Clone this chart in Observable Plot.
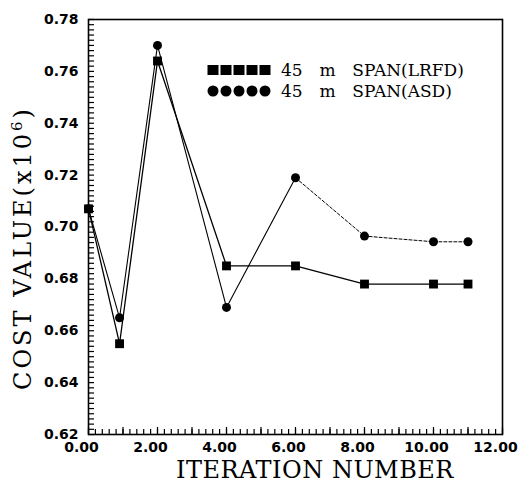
<!DOCTYPE html>
<html>
<head>
<meta charset="utf-8">
<script src="https://cdn.jsdelivr.net/npm/d3@7"></script>
<script src="https://cdn.jsdelivr.net/npm/@observablehq/plot@0.6"></script>
<style>
  html, body { margin: 0; padding: 0; background: #fff; }
  #wrap { position: relative; width: 527px; height: 483px; }
  .ttl { position: absolute; font-family: "DejaVu Serif", serif; color: #000; white-space: pre; line-height: 1; }
  .leg { position: absolute; font-family: "DejaVu Serif", serif; font-size: 17px; color: #000; white-space: pre; display: flex; align-items: center; line-height: 1; }
</style>
</head>
<body>
<div id="wrap"></div>
<script>
// Data
const iterations = [0, 0.9, 2, 4, 6, 8, 10, 11];
const lrfd = [0.707, 0.655, 0.764, 0.685, 0.685, 0.678, 0.678, 0.678];
const asd  = [0.707, 0.665, 0.770, 0.669, 0.719, 0.6965, 0.6943, 0.6943];
const xTicks = [0, 2, 4, 6, 8, 10, 12];
const yTicks = [0.62, 0.64, 0.66, 0.68, 0.70, 0.72, 0.74, 0.76, 0.78];
const seriesNames = ["45  m  SPAN(LRFD)", "45  m  SPAN(ASD)"];
const xTitle = "ITERATION NUMBER";
const yTitle = "COST VALUE(x10";

const lrfdData = iterations.map((x, i) => ({x, y: lrfd[i]}));
const asdData = iterations.map((x, i) => ({x, y: asd[i]}));
const yMinor = d3.range(0, 81).map(i => 0.62 + i * 0.002);
const xMinor = d3.range(0, 61).map(i => i * 0.2);
const xMid = d3.range(0, 13);

const W = 527, H = 483, ML = 88, MR = 25, MT = 19, MB = 49;
const innerW = W - ML - MR, innerH = H - MT - MB;

const chart = Plot.plot({
  width: W,
  height: H,
  marginLeft: ML,
  marginRight: MR,
  marginTop: MT,
  marginBottom: MB,
  x: {domain: [0, 12]},
  y: {domain: [0.62, 0.78]},
  style: {background: "#fff"},
  marks: [
    Plot.tickY(yMinor, {y: d => d, stroke: "#000", strokeWidth: 1.2, insetRight: innerW - 6}),
    Plot.tickX(xMinor, {x: d => d, stroke: "#000", strokeWidth: 1.2, insetTop: innerH - 5}),
    Plot.tickX(xMid, {x: d => d, stroke: "#000", strokeWidth: 1.2, insetTop: innerH - 7}),
    Plot.axisY({ticks: yTicks, tickSize: 0, tickPadding: 10, tickFormat: d3.format(".2f"), label: null,
      fontSize: 14, fontWeight: "bold", fontFamily: "DejaVu Sans, sans-serif"}),
    Plot.axisX({ticks: xTicks, tickSize: 0, tickPadding: 8, dx: -7, tickFormat: d3.format(".2f"), label: null,
      fontSize: 14, fontWeight: "bold", fontFamily: "DejaVu Sans, sans-serif"}),
    Plot.frame({stroke: "#000", strokeWidth: 1.6}),
    Plot.line(lrfdData, {x: "x", y: "y", stroke: "#000", strokeWidth: 1.3}),
    Plot.line(asdData.filter(d => d.x <= 6), {x: "x", y: "y", stroke: "#000", strokeWidth: 1.1}),
    Plot.line(asdData.filter(d => d.x >= 6), {x: "x", y: "y", stroke: "#000", strokeWidth: 1, strokeDasharray: "3,2"}),
    Plot.dot(lrfdData, {x: "x", y: "y", symbol: "square", r: 5, fill: "#000", stroke: "none"}),
    Plot.dot(asdData, {x: "x", y: "y", symbol: "circle", r: 4.5, fill: "#000", stroke: "none"})
  ]
});

const wrap = document.getElementById("wrap");
wrap.appendChild(chart);
chart.style.position = "absolute";
chart.style.left = "0";
chart.style.top = "0";

// Legend
function legendRow(centerY, symbol, label) {
  const row = document.createElement("div");
  row.className = "leg";
  row.style.left = "207px";
  row.style.top = (centerY - 10) + "px";
  row.style.height = "20px";
  const svg = d3.create("svg").attr("width", 66).attr("height", 12);
  for (let i = 0; i < 5; i++) {
    const cx = 6 + i * 13;
    if (symbol === "square") svg.append("rect").attr("x", cx - 5.5).attr("y", 1).attr("width", 11).attr("height", 10).attr("fill", "#000");
    else svg.append("circle").attr("cx", cx).attr("cy", 6).attr("r", 5.5).attr("fill", "#000");
  }
  row.appendChild(svg.node());
  const t = document.createElement("span");
  t.textContent = label;
  t.style.marginLeft = "8px";
  t.style.wordSpacing = "3px";
  row.appendChild(t);
  wrap.appendChild(row);
}
legendRow(70, "square", seriesNames[0]);
legendRow(91, "circle", seriesNames[1]);

// Axis titles
const xt = document.createElement("div");
xt.className = "ttl";
xt.style.fontSize = "24px";
xt.style.letterSpacing = "0.5px";
xt.textContent = xTitle;
xt.style.left = "176px";
xt.style.top = "458px";
wrap.appendChild(xt);

const yt = document.createElement("div");
yt.className = "ttl";
yt.style.fontSize = "24px";
yt.style.letterSpacing = "3px";
yt.innerHTML = yTitle + '<span style="font-size:15px;vertical-align:9px">6</span>)';
yt.style.left = "22px";
yt.style.top = "248px";
yt.style.transformOrigin = "0 0";
wrap.appendChild(yt);
const w = yt.getBoundingClientRect().width;
const h = yt.getBoundingClientRect().height;
yt.style.transform = `rotate(-90deg) translate(${-w / 2}px, ${-h / 2}px)`;
</script>
</body>
</html>
